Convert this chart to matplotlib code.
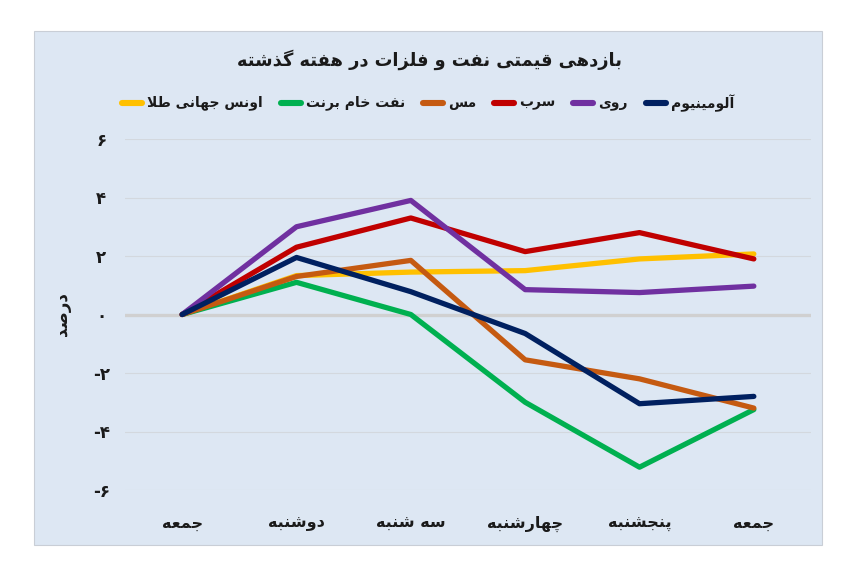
import matplotlib
matplotlib.use("Agg")
import matplotlib.pyplot as plt
from matplotlib.lines import Line2D
from matplotlib.patches import Rectangle

# ---------------- data ----------------
categories = ["جمعه", "دوشنبه", "سه شنبه", "چهارشنبه", "پنجشنبه", "جمعه"]
series_names = ["اونس جهانی طلا", "نفت خام برنت", "مس", "سرب", "روی", "آلومینیوم"]
gold = [0, 1.33, 1.45, 1.50, 1.90, 2.07]
brent = [0, 1.10, 0.00, -3.00, -5.22, -3.25]
copper = [0, 1.30, 1.85, -1.55, -2.20, -3.20]
lead = [0, 2.30, 3.30, 2.15, 2.80, 1.90]
zinc = [0, 3.00, 3.90, 0.85, 0.75, 0.97]
aluminium = [0, 1.95, 0.78, -0.65, -3.05, -2.80]
yticks = [-6, -4, -2, 0, 2, 4, 6]
ytick_labels = ["-۶", "-۴", "-۲", "۰", "۲", "۴", "۶"]
title = "بازدهی قیمتی نفت و فلزات در هفته گذشته"
ylabel = "درصد"

colors = ["#FFC000", "#00B050", "#C55A11", "#C00000", "#7030A0", "#002060"]
values = [gold, brent, copper, lead, zinc, aluminium]

# ---------------- simple Arabic/Persian shaping ----------------
FORMS = {
    'ا': ('\uFE8D', '\uFE8E', '\uFE8D', '\uFE8E'),
    'آ': ('\uFE81', '\uFE82', '\uFE81', '\uFE82'),
    'ب': ('\uFE8F', '\uFE90', '\uFE91', '\uFE92'),
    'ت': ('\uFE95', '\uFE96', '\uFE97', '\uFE98'),
    'ج': ('\uFE9D', '\uFE9E', '\uFE9F', '\uFEA0'),
    'خ': ('\uFEA5', '\uFEA6', '\uFEA7', '\uFEA8'),
    'د': ('\uFEA9', '\uFEAA', '\uFEA9', '\uFEAA'),
    'ذ': ('\uFEAB', '\uFEAC', '\uFEAB', '\uFEAC'),
    'ر': ('\uFEAD', '\uFEAE', '\uFEAD', '\uFEAE'),
    'ز': ('\uFEAF', '\uFEB0', '\uFEAF', '\uFEB0'),
    'س': ('\uFEB1', '\uFEB2', '\uFEB3', '\uFEB4'),
    'ش': ('\uFEB5', '\uFEB6', '\uFEB7', '\uFEB8'),
    'ص': ('\uFEB9', '\uFEBA', '\uFEBB', '\uFEBC'),
    'ط': ('\uFEC1', '\uFEC2', '\uFEC3', '\uFEC4'),
    'ع': ('\uFEC9', '\uFECA', '\uFECB', '\uFECC'),
    'ف': ('\uFED1', '\uFED2', '\uFED3', '\uFED4'),
    'ق': ('\uFED5', '\uFED6', '\uFED7', '\uFED8'),
    'ل': ('\uFEDD', '\uFEDE', '\uFEDF', '\uFEE0'),
    'م': ('\uFEE1', '\uFEE2', '\uFEE3', '\uFEE4'),
    'ن': ('\uFEE5', '\uFEE6', '\uFEE7', '\uFEE8'),
    'ه': ('\uFEE9', '\uFEEA', '\uFEEB', '\uFEEC'),
    'و': ('\uFEED', '\uFEEE', '\uFEED', '\uFEEE'),
    'ی': ('\uFBFC', '\uFBFD', '\uFBFE', '\uFBFF'),
    'پ': ('\uFB56', '\uFB57', '\uFB58', '\uFB59'),
    'چ': ('\uFB7A', '\uFB7B', '\uFB7C', '\uFB7D'),
    'گ': ('\uFB92', '\uFB93', '\uFB94', '\uFB95'),
}
RIGHT_ONLY = set('اآدذرزو')
DUAL = set(FORMS) - RIGHT_ONLY


def shape(s):
    out = []
    i, n = 0, len(s)
    while i < n:
        c = s[i]
        if c not in FORMS:
            out.append(c)
            i += 1
            continue
        prev = s[i - 1] if i > 0 else None
        conn_prev = prev is not None and prev in DUAL
        if c == 'ل' and i + 1 < n and s[i + 1] in 'اآ':
            if s[i + 1] == 'ا':
                out.append('\uFEFC' if conn_prev else '\uFEFB')
            else:
                out.append('\uFEF6' if conn_prev else '\uFEF5')
            i += 2
            continue
        nxt = s[i + 1] if i + 1 < n else None
        conn_next = c in DUAL and nxt is not None and nxt in FORMS
        f = FORMS[c]
        if conn_prev and conn_next:
            g = f[3]
        elif conn_prev:
            g = f[1]
        elif conn_next:
            g = f[2]
        else:
            g = f[0]
        out.append(g)
        i += 1
    return ''.join(reversed(out))


plt.rcParams['font.family'] = ['DejaVu Sans']
W, H = 857, 584
fig = plt.figure(figsize=(W / 100, H / 100), dpi=100)
fig.patch.set_facecolor('white')

# panel background
panel_bg = '#DDE7F3'
fig.patches.append(Rectangle((34 / W, 1 - 545 / H), (822 - 34) / W, (545 - 31) / H,
                             transform=fig.transFigure, facecolor=panel_bg,
                             edgecolor='#C9CED6', linewidth=0.8, zorder=-5))

ax = fig.add_axes([125 / W, 1 - 490 / H, (811 - 125) / W, (490 - 139) / H])
ax.set_zorder(2)
ax.set_facecolor('none')
ax.set_xlim(-0.5, 5.5)
ax.set_ylim(-6, 6)
for sp in ax.spines.values():
    sp.set_visible(False)
ax.set_yticks(yticks)
ax.set_yticklabels(ytick_labels, fontsize=12, fontweight='bold', color='#1a1a1a')
ax.set_xticks(range(len(categories)))
ax.set_xticklabels([shape(c) for c in categories], fontsize=11.5, fontweight='bold',
                   color='#1a1a1a')
ax.tick_params(axis='both', length=0)
ax.tick_params(axis='x', pad=23)
ax.tick_params(axis='y', pad=17)
for t in ax.get_yticklabels():
    t.set_horizontalalignment('center')
for t in ax.get_xticklabels():
    t.set_verticalalignment('center_baseline')
for y in yticks:
    if y != 0:
        ax.axhline(y, color='#D3D8DE', linewidth=0.8, zorder=1)
ax.axhline(0, color='#D0D0D0', linewidth=2.4, zorder=1)

x = list(range(len(categories)))
for vals, col in zip(values, colors):
    ax.plot(x, vals, color=col, linewidth=3.8, solid_capstyle='round',
            solid_joinstyle='round', zorder=3)

ax.set_ylabel(shape(ylabel), fontsize=12, fontweight='bold', color='#1a1a1a')
ax.yaxis.set_label_coords(-0.078, 0.5)

fig.text(430 / W, 1 - 60 / H, shape(title), ha='center', va='center',
         fontsize=12.8, fontweight='bold', color='#1a1a1a')

# manual RTL legend (text on right, swatch on its left)
fig.canvas.draw()
renderer = fig.canvas.get_renderer()
leg_y = 1 - 103 / H
line_len = 20
gap = 5
spacing = 18
items = []
total = 0
order = list(range(len(series_names)))[::-1]  # rightmost = aluminium
for idx in order:
    t = fig.text(0, leg_y, shape(series_names[idx]), ha='right', va='center',
                 fontsize=10, fontweight='bold', color='#1a1a1a')
    w = t.get_window_extent(renderer).width
    items.append((idx, t, w))
    total += w + gap + line_len
total += spacing * (len(items) - 1)
right = 428 + total / 2
for idx, t, w in items:
    t.set_x(right / W)
    lx1 = right - w - gap
    lx0 = lx1 - line_len
    fig.lines.append(Line2D([lx0 / W, lx1 / W], [leg_y, leg_y], transform=fig.transFigure,
                            color=colors[idx], linewidth=4.4, solid_capstyle='round'))
    right = lx0 - spacing

fig.savefig('out.png', dpi=100, facecolor='white')
